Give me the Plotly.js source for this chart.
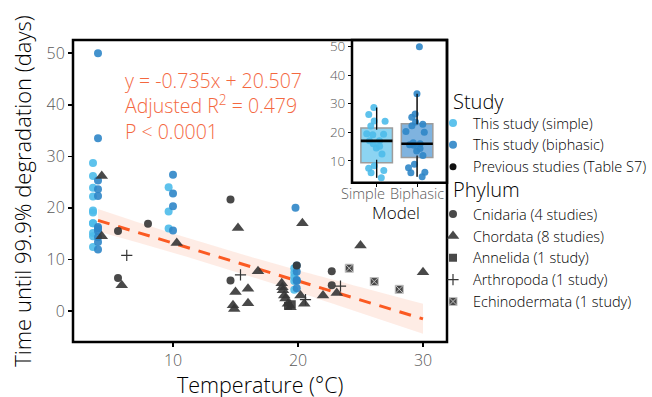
<!DOCTYPE html>
<html><head><meta charset="utf-8">
<script src="https://cdn.plot.ly/plotly-3.0.1.min.js"></script>
<style>html,body{margin:0;padding:0;background:#fff}#chart{width:652px;height:397px}</style>
</head><body><div id="chart"></div>
<script>
// ---- This study (temperature °C, days) ----
const simpleTemp = [3.6,3.6,3.6,3.6,3.6,3.6,3.6,3.6,3.6,3.6,3.6, 9.65,9.65,9.65, 19.7,19.7,19.7,19.7,19.7];
const simpleDays = [28.7,26.2,23.9,22.2,19.5,19.1,17.0,17.0,15.1,14.5,12.4, 24.0,19.3,16.0, 8.3,7.4,6.6,5.8,4.1];
const biphasicTemp = [4,4,4,4,4,4,4,4,4,4,4, 10,10,10,10, 19.8,19.9,19.9,19.9,19.9,19.9];
const biphasicDays = [50.0,33.5,25.3,23.6,22.3,16.3,16.0,15.5,14.3,13.4,11.9, 26.4,22.8,20.3,15.6, 20.0,8.8,7.6,6.0,5.8,4.4];
// ---- Previous studies by phylum ----
const cnidariaTemp = [5.6,8.0,5.6,14.6,14.6,19.9,22.7,22.7];
const cnidariaDays = [15.5,16.9,6.4,21.6,5.9,8.8,7.7,5.0];
const chordataTemp = [4.3,4.3,5.9,10.3,15.2,20.35,16.8,15.0,16.0,16.0,14.8,14.9,18.7,18.75,18.8,18.9,19.0,19.2,19.4,20.2,20.5,25.0,22.0,23.1,30.0];
const chordataDays = [26.2,14.5,5.0,13.2,16.1,17.0,7.7,3.7,4.3,1.5,1.1,0.4,5.4,4.6,4.0,3.0,2.4,1.4,0.7,3.0,1.4,12.7,3.0,3.5,7.5];
const annelidaTemp = [19.2,19.5];
const annelidaDays = [1.0,1.3];
const arthropodaTemp = [6.3,15.4,23.4,20.6];
const arthropodaDays = [10.8,7.0,4.8,2.2];
const echinoTemp = [24.1,26.1,28.1];
const echinoDays = [8.3,5.7,4.2];
// ---- Fit and confidence band ----
const fitTemp = [4,30];
const fitDays = [17.57,-1.54];
const bandTemp = [4,8,12,16,20,24,30];
const bandUpper = [19.8,16.6,13.55,10.65,7.9,5.3,1.4];
const bandLower = [15.4,12.7,9.85,6.85,3.7,0.45,-4.4];
// ---- Labels ----
const xTicks = [10,20,30];
const yTicks = [0,10,20,30,40,50];
const insetTicks = [10,20,30,40,50];
const modelLabels = ['Simple','Biphasic'];
const fitText = 'y = -0.735x + 20.507<br>Adjusted R<sup>2</sup> = 0.479<br>P &lt; 0.0001';
const studyLabels = ['This study (simple)','This study (biphasic)','Previous studies (Table S7)'];
const phylumLabels = ['Cnidaria (4 studies)','Chordata (8 studies)','Annelida (1 study)','Arthropoda (1 study)','Echinodermata (1 study)'];

const FONT = '"Open Sans", "Liberation Sans", Arial, sans-serif';
const W = 300;
const cSimple = '#4cbbea', cBiph = '#2f86c8', cGray = '#353535';
const fSimple = 'rgba(120,205,240,0.85)', fBiph = 'rgba(95,160,215,0.8)';

function median(a){const s=[...a].sort((p,q)=>p-q);const n=s.length;return n%2?s[(n-1)/2]:(s[n/2-1]+s[n/2])/2;}
function q7(a,p){const s=[...a].sort((x,y)=>x-y);const h=(s.length-1)*p;const lo=Math.floor(h);return s[lo]+(h-lo)*((s[lo+1]??s[lo])-s[lo]);}
function fences(a){const q1=q7(a,0.25),q3=q7(a,0.75),iqr=q3-q1;const s=[...a].sort((x,y)=>x-y);
  const lo=s.find(v=>v>=q1-1.5*iqr);const hi=[...s].reverse().find(v=>v<=q3+1.5*iqr);return {q1,q3,lo,hi};}

const traces = [];
traces.push({x:bandTemp,y:bandLower,mode:'lines',line:{width:0,shape:'spline'},hoverinfo:'skip',showlegend:false});
traces.push({x:bandTemp,y:bandUpper,mode:'lines',line:{width:0,shape:'spline'},fill:'tonexty',fillcolor:'rgba(252,150,110,0.18)',hoverinfo:'skip',showlegend:false});
traces.push({x:fitTemp,y:fitDays,mode:'lines',line:{color:'#fb5a22',width:3,dash:'12px,9px'},showlegend:false});

const grayMk = (sym,size,extra)=>Object.assign({color:cGray,symbol:sym,size:size,opacity:0.9,line:{width:0}},extra||{});
traces.push({x:simpleTemp,y:simpleDays,mode:'markers',name:studyLabels[0],legend:'legend',marker:{color:cSimple,size:8,opacity:0.9}});
traces.push({x:biphasicTemp,y:biphasicDays,mode:'markers',name:studyLabels[1],legend:'legend',marker:{color:cBiph,size:8,opacity:0.9}});
traces.push({x:[null],y:[null],mode:'markers',name:studyLabels[2],legend:'legend',marker:{color:'#111',size:7}});

traces.push({x:cnidariaTemp,y:cnidariaDays,mode:'markers',name:phylumLabels[0],legend:'legend2',marker:grayMk('circle',8)});
traces.push({x:chordataTemp,y:chordataDays,mode:'markers',name:phylumLabels[1],legend:'legend2',marker:grayMk('triangle-up',11)});
traces.push({x:annelidaTemp,y:annelidaDays,mode:'markers',name:phylumLabels[2],legend:'legend2',marker:grayMk('square',8)});
traces.push({x:arthropodaTemp,y:arthropodaDays,mode:'markers',name:phylumLabels[3],legend:'legend2',marker:{symbol:'cross-thin-open',size:8,color:cGray,line:{width:1.2,color:cGray}}});
traces.push({x:echinoTemp,y:echinoDays,mode:'markers',name:phylumLabels[4],legend:'legend2',marker:grayMk('square-x',8,{line:{width:1,color:'#bbbbbb'}})});

// inset boxes
const groups = [{d:simpleDays,fill:fSimple,pt:cSimple},{d:biphasicDays,fill:fBiph,pt:cBiph}];
groups.forEach((g,i)=>{
  traces.push({type:'box',x:g.d.map(()=>i),y:g.d,xaxis:'x2',yaxis:'y2',width:0.78,boxpoints:'outliers',
    marker:{size:0.1,color:'rgba(0,0,0,0)'},
    fillcolor:g.fill,line:{color:'#9c9c9c',width:1.5},whiskerwidth:0,showlegend:false,hoverinfo:'skip'});
});
groups.forEach((g,i)=>{
  const f=fences(g.d), m=median(g.d);
  traces.push({x:[i,i,null,i,i],y:[f.lo,f.q1,null,f.q3,f.hi],xaxis:'x2',yaxis:'y2',mode:'lines',line:{color:'#000',width:1.2},showlegend:false,hoverinfo:'skip'});
  traces.push({x:[i-0.39,i+0.39],y:[m,m],xaxis:'x2',yaxis:'y2',mode:'lines',line:{color:'#000',width:2.6},showlegend:false,hoverinfo:'skip'});
});
groups.forEach((g,i)=>{
  traces.push({type:'box',x:g.d.map(()=>i),y:g.d,xaxis:'x2',yaxis:'y2',width:0.78,boxpoints:'all',jitter:0.75,pointpos:0,
    fillcolor:'rgba(0,0,0,0)',line:{color:'rgba(0,0,0,0)',width:0},marker:{color:g.pt,size:7,opacity:0.9},showlegend:false,hoverinfo:'skip'});
});

const pl = 73, pt = 40, pw = 374, ph = 301.7;
const px = v => (v-pl)/pw, py = v => (pt+ph-v)/ph;

const layout = {
  width:652,height:397,margin:{l:pl,r:652-pl-pw,t:pt,b:397-pt-ph,autoexpand:false},
  paper_bgcolor:'#fff',plot_bgcolor:'rgba(0,0,0,0)',
  font:{family:FONT,weight:W,color:'#000'},
  showlegend:true,
  xaxis:{range:[2.0,31.92],tickvals:xTicks,ticks:'outside',ticklen:4,tickwidth:1.5,tickcolor:'#000',showgrid:false,zeroline:false,showline:false,automargin:false,
    tickfont:{size:16,color:'#595959',family:FONT,weight:W}},
  yaxis:{range:[-6.02,52.56],tickvals:yTicks,ticks:'outside',ticklen:4,tickwidth:1.5,tickcolor:'#000',showgrid:false,zeroline:false,showline:false,automargin:false,
    tickfont:{size:16,color:'#595959',family:FONT,weight:W},
    title:{text:'Time until 99.9% degradation (days)',font:{size:22,color:'#000',family:FONT,weight:W},standoff:8}},
  xaxis2:{domain:[px(352),1],anchor:'y2',range:[-0.61,1.74],tickvals:[0,1],showticklabels:false,ticks:'outside',ticklen:3,tickcolor:'#000',
    showgrid:false,zeroline:false,automargin:false},
  yaxis2:{domain:[py(182.7),1],anchor:'x2',range:[2.28,52.35],tickvals:insetTicks,ticks:'outside',ticklen:3,tickcolor:'#000',
    showgrid:false,zeroline:false,automargin:false,tickfont:{size:13.5,color:'#595959',family:FONT,weight:W}},
  legend:{x:px(433),y:py(107),xanchor:'left',yanchor:'top',traceorder:'normal',font:{size:14.5,family:FONT,weight:W},itemwidth:30,itemsizing:'trace',bgcolor:'rgba(0,0,0,0)',tracegroupgap:0},
  legend2:{x:px(433),y:py(198),xanchor:'left',yanchor:'top',traceorder:'normal',font:{size:14.5,family:FONT,weight:W},itemwidth:30,itemsizing:'trace',bgcolor:'rgba(0,0,0,0)',tracegroupgap:0},
  shapes:[
    {type:'rect',xref:'paper',yref:'paper',x0:0,x1:1,y0:0,y1:1,line:{color:'#000',width:2.5},layer:'above'},
    {type:'rect',xref:'paper',yref:'paper',x0:px(352),x1:1,y0:py(182.7),y1:1,line:{color:'#000',width:2.5},layer:'above'}
  ],
  annotations:[
    {xref:'paper',yref:'paper',x:0.5,y:py(384),xanchor:'center',yanchor:'middle',showarrow:false,borderpad:0,
      text:'Temperature (°C)',font:{size:21.5,color:'#000',family:FONT,weight:W}},
    {xref:'paper',yref:'paper',x:px(123),y:py(106),xanchor:'left',yanchor:'middle',align:'left',showarrow:false,
      text:fitText,font:{size:19.5,color:'#f4683f',family:FONT,weight:W}},
    {xref:'x2',yref:'paper',x:-0.35,y:py(193),xanchor:'center',yanchor:'middle',showarrow:false,text:modelLabels[0],font:{size:14.5,color:'#595959',family:FONT,weight:W}},
    {xref:'x2',yref:'paper',x:1.0,y:py(193),xanchor:'center',yanchor:'middle',showarrow:false,text:modelLabels[1],font:{size:14.5,color:'#595959',family:FONT,weight:W}},
    {xref:'x2',yref:'paper',x:0.48,y:py(212),xanchor:'center',yanchor:'middle',showarrow:false,text:'Model',font:{size:17,color:'#000',family:FONT,weight:W}},
    {xref:'paper',yref:'paper',x:px(451),y:py(101),xanchor:'left',yanchor:'middle',showarrow:false,text:'Study',font:{size:20,color:'#000',family:FONT,weight:W}},
    {xref:'paper',yref:'paper',x:px(451),y:py(189),xanchor:'left',yanchor:'middle',showarrow:false,text:'Phylum',font:{size:20,color:'#000',family:FONT,weight:W}}
  ]
};
Plotly.newPlot('chart',traces,layout,{displayModeBar:false,staticPlot:true});
</script></body></html>
